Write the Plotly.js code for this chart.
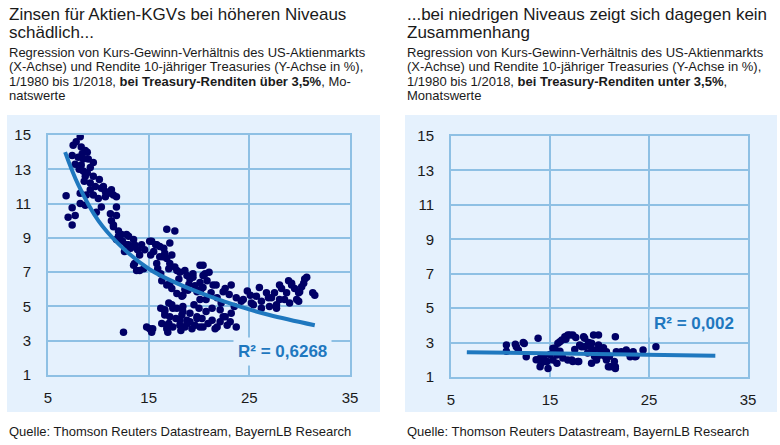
<!DOCTYPE html>
<html>
<head>
<meta charset="utf-8">
<script src="https://cdn.plot.ly/plotly-3.0.1.min.js"></script>
<style>
html,body{margin:0;padding:0;background:#fff;}
#chart{width:780px;height:445px;}
</style>
</head>
<body>
<div id="chart"></div>
<script>
// ---- Left chart: yields above 3.5% (x = KGV, y = 10y Treasury yield %) ----
var highPE = [
  8.2,7.8,7.5,8.3,8.7,8.9,7.4,8.0,8.5,9.0,9.5,7.7,8.3,8.1,8.5,8.9,8.7,9.5,10.1,9.2,8.6,10.3,11.3,10.7,11.0,9.5,8.8,8.2,6.8,11.8,11.5,10.7,10.0,8.2,8.7,10.3,11.8,7.4,9.8,11.2,11.8,7.7,7.0,7.4,11.3,11.5,9.2,9.7,10.5,8.4,9.2,
  12.0,12.3,13.0,11.8,13.5,12.8,13.6,13.9,15.1,15.7,16.8,17.6,17.1,15.3,16.1,11.5,12.0,12.8,13.0,13.6,12.6,14.1,13.5,14.5,13.8,15.8,16.5,15.5,16.1,16.8,17.1,17.6,18.1,13.6,15.8,16.4,17.8,14.1,14.6,15.2,16.6,17.3,12.4,13.2,14.3,15.9,16.2,17.0,
  18.8,19.1,19.4,20.1,20.4,20.1,20.4,20.6,18.6,19.4,18.6,17.1,16.3,16.8,17.3,17.8,18.4,18.9,19.8,20.1,18.3,20.7,19.0,19.6,20.4,18.0,21.4,21.7,22.4,22.6,23.2,21.0,20.8,21.2,20.2,
  17.3,16.6,17.8,18.4,16.6,17.1,18.3,19.1,19.8,16.3,16.8,17.4,18.1,18.8,19.6,20.4,20.3,15.1,14.8,15.3,12.5,15.4,16.6,16.8,17.4,18.8,18.1,18.4,18.6,19.1,20.1,19.8,20.7,21.3,22.1,22.6,21.6,23.1,21.3,22.1,22.4,23.2,23.7,21.8,17.0,16.2,19.5,20.0,17.7,19.3,17.0,20.9,22.8,16.9,18.2,
  23.7,24.4,25.1,25.2,25.7,26.2,26.7,27.2,27.7,28.0,28.2,28.7,29.2,29.5,29.9,30.2,30.5,29.9,31.3,29.0,27.0,24.2,25.4,26.2,26.9,27.5,28.0,28.5,28.9,29.2,29.7,30.0,30.4,30.7,31.5,27.7,22.2,23.0,24.8,26.0,21.8,23.5
];
var highYield = [
  14.9,14.6,14.4,14.3,14.1,14.0,13.8,13.7,13.6,13.6,13.4,13.3,13.25,13.0,12.9,12.8,12.6,12.6,12.4,12.2,12.3,11.9,11.8,11.7,11.6,11.5,11.5,11.6,11.45,11.4,11.5,11.4,11.3,11.0,10.9,10.8,10.8,10.75,10.5,10.4,10.3,10.3,10.2,9.75,10.0,9.75,11.8,12.0,12.0,13.9,13.1,
  9.4,9.2,9.1,8.9,8.9,8.6,8.6,8.3,8.8,8.6,9.5,9.4,8.7,8.8,8.5,9.65,9.1,9.2,8.6,8.5,8.2,8.0,7.4,7.2,7.1,8.6,8.4,8.2,7.9,7.8,7.5,7.3,7.0,7.5,7.5,7.9,7.1,7.1,8.3,8.0,8.1,8.0,8.8,8.4,8.6,7.2,6.9,7.2,
  6.8,6.6,6.9,7.4,6.8,6.4,7.4,6.9,7.1,6.7,6.0,6.35,6.5,6.25,6.05,5.75,5.65,5.95,5.85,5.4,5.6,5.4,6.3,6.2,6.1,6.6,6.25,6.25,5.85,6.05,6.25,7.0,6.5,5.8,6.0,
  5.1,4.8,4.9,5.0,4.5,4.4,4.5,4.6,4.3,4.0,3.7,3.8,3.9,4.0,3.9,3.8,4.3,3.7,3.8,3.5,3.5,3.7,4.7,3.9,4.9,4.2,4.2,4.7,3.8,4.1,3.8,4.4,4.7,4.2,4.1,4.4,3.7,4.1,4.9,4.8,4.4,4.6,3.8,3.8,5.2,4.9,5.1,4.9,4.3,3.7,4.0,4.0,3.9,3.5,3.6,
  5.5,5.4,5.65,5.2,5.6,5.3,5.8,5.5,4.9,5.4,6.05,5.8,6.35,6.05,5.8,6.15,6.6,5.3,5.8,5.2,5.0,5.3,5.1,4.9,5.5,5.8,6.25,5.4,6.5,6.25,5.4,5.85,6.35,6.7,5.65,5.1,5.2,5.7,5.9,6.1,5.5,5.0
];
// trend curve
var highTrendX = [6.7, 8, 10, 12, 15, 18, 21, 24, 27, 31.5];
var highTrendY = [14.0, 12.1, 10.0, 8.65, 7.2, 6.3, 5.6, 5.0, 4.5, 3.9];

// ---- Right chart: yields below 3.5% ----
var lowPE = [
  10.6,10.6,11.6,12.4,12.6,11.8,13.8,14.0,14.0,14.7,14.8,15.3,15.7,15.8,16.2,16.5,16.8,17.3,17.6,16.8,17.3,17.8,18.2,18.5,19.2,19.4,19.9,19.2,19.7,20.1,20.6,20.9,21.6,21.6,21.7,22.2,23.1,23.6,23.4,24.4,25.7,
  12.3,14.1,14.5,15.3,15.7,15.5,16.0,17.0,18.4,18.0,18.5,19.1,19.4,19.9,17.2,17.9,19.7,20.1,20.7,21.1,21.6,21.5,22.7,23.7,20.7,15.0,16.3,16.0,18.8,19.5,20.4,14.4,13.6,22.9,11.5,21.0,16.6,18.9,17.5
];
var lowYield = [
  2.86,2.5,2.76,2.95,2.18,2.57,3.25,2.09,1.6,1.9,1.5,2.67,1.8,2.96,3.15,3.34,3.44,3.44,3.3,1.99,1.9,1.9,2.76,3.25,2.96,3.44,3.44,1.8,2.1,2.57,2.18,1.6,1.6,3.34,2.47,2.47,2.18,2.18,2.47,2.57,2.76,
  3.0,1.8,1.9,1.99,2.28,2.67,3.05,3.44,3.34,2.86,2.76,2.76,2.57,2.86,1.99,1.9,1.99,2.28,1.99,1.6,1.5,1.9,2.57,2.2,2.47,2.3,2.1,2.5,2.4,2.2,2.7,2.2,2.0,2.4,2.9,2.2,3.2,3.0,2.6
];
var lowTrendX = [6.6, 31.7];
var lowTrendY = [2.44, 2.24];

// ---- Texts ----
var titleLeft = ["Zinsen für Aktien-KGVs bei höheren Niveaus", "schädlich..."];
var subLeft = ["Regression von Kurs-Gewinn-Verhältnis des US-Aktienmarkts",
               "(X-Achse) und Rendite 10-jähriger Treasuries (Y-Achse in %),",
               "1/1980 bis 1/2018, <b>bei Treasury-Renditen über 3,5%</b>, Mo-",
               "natswerte"];
var titleRight = ["...bei niedrigen Niveaus zeigt sich dagegen kein", "Zusammenhang"];
var subRight = ["Regression von Kurs-Gewinn-Verhältnis des US-Aktienmarkts",
                "(X-Achse) und Rendite 10-jähriger Treasuries (Y-Achse in %),",
                "1/1980 bis 1/2018, <b>bei Treasury-Renditen unter 3,5%</b>,",
                "Monatswerte"];
var sourceText = "Quelle: Thomson Reuters Datastream, BayernLB Research";
var r2Left = "R² = 0,6268";
var r2Right = "R² = 0,002";
var xTicks = [5, 15, 25, 35];
var yTicks = [1, 3, 5, 7, 9, 11, 13, 15];

var W = 780, H = 445;
var FONT = "Liberation Sans, Arial, sans-serif";
var PANEL = "#e5f1fd";
var GRID = "#8ec0e4";
var DOT = "#000066";
var LINE = "#1f78bf";
function px(x){return x / W;}
function py(y){return 1 - y / H;}

var traces = [
  {x: highPE, y: highYield, type: "scatter", mode: "markers", xaxis: "x", yaxis: "y",
   marker: {color: DOT, size: 7.5}, hoverinfo: "skip"},
  {x: highTrendX, y: highTrendY, type: "scatter", mode: "lines", xaxis: "x", yaxis: "y",
   line: {color: LINE, width: 4, shape: "spline"}, hoverinfo: "skip"},
  {x: lowPE, y: lowYield, type: "scatter", mode: "markers", xaxis: "x2", yaxis: "y2",
   marker: {color: DOT, size: 7.5}, hoverinfo: "skip"},
  {x: lowTrendX, y: lowTrendY, type: "scatter", mode: "lines", xaxis: "x2", yaxis: "y2",
   line: {color: LINE, width: 4}, hoverinfo: "skip"}
];

function xa(dom, anchor){
  return {domain: dom, anchor: anchor, range: [5, 35], tickvals: xTicks, ticktext: xTicks.map(String),
    showgrid: true, gridcolor: GRID, gridwidth: 2, showline: true, linecolor: GRID, linewidth: 2, mirror: true,
    zeroline: false, ticks: "", ticklabelstandoff: 8, tickfont: {family: FONT, size: 15, color: "#1a1a1a"}, fixedrange: true};
}
function ya(dom, anchor){
  return {domain: dom, anchor: anchor, range: [1, 15], tickvals: yTicks, ticktext: yTicks.map(String),
    showgrid: true, gridcolor: GRID, gridwidth: 2, showline: true, linecolor: GRID, linewidth: 2, mirror: true,
    zeroline: false, ticks: "", ticklabelstandoff: 12, tickfont: {family: FONT, size: 15, color: "#1a1a1a"}, fixedrange: true};
}

var annotations = [];
function txt(t, x, yBase, size, extra){
  var a = {text: t, xref: "paper", yref: "paper", x: px(x), y: py(yBase - 0.35 * size),
    xanchor: "left", yanchor: "middle", showarrow: false,
    font: {family: FONT, size: size, color: "#1a1a1a"}};
  if (extra) for (var k in extra) a[k] = extra[k];
  annotations.push(a);
}
txt(titleLeft[0], 7, 20, 17); txt(titleLeft[1], 7, 38, 17);
txt(titleRight[0], 405, 20, 17); txt(titleRight[1], 405, 38, 17);
var subBase = [57, 71.5, 86, 100.5];
for (var i = 0; i < 4; i++){ txt(subLeft[i], 7, subBase[i], 13); txt(subRight[i], 405, subBase[i], 13); }
txt(sourceText, 7, 436, 13); txt(sourceText, 405, 436, 13);

annotations.push({text: "<b>" + r2Left + "</b>", xref: "paper", yref: "paper", x: px(282), y: py(351),
  xanchor: "center", yanchor: "middle", showarrow: false, bgcolor: PANEL, borderpad: 4,
  font: {family: FONT, size: 17, color: LINE}});
annotations.push({text: "<b>" + r2Right + "</b>", xref: "paper", yref: "paper", x: px(694), y: py(323),
  xanchor: "center", yanchor: "middle", showarrow: false, bgcolor: PANEL, borderpad: 4,
  font: {family: FONT, size: 17, color: LINE}});

var shapes = [
  {type: "rect", xref: "paper", yref: "paper", x0: px(7), x1: px(380), y0: py(412), y1: py(115),
   fillcolor: PANEL, line: {width: 0}, layer: "below"},
  {type: "rect", xref: "paper", yref: "paper", x0: px(405), x1: px(777), y0: py(412), y1: py(115),
   fillcolor: PANEL, line: {width: 0}, layer: "below"}
];

var layout = {
  width: W, height: H, margin: {l: 0, r: 0, t: 0, b: 0},
  paper_bgcolor: "#ffffff", plot_bgcolor: "rgba(0,0,0,0)",
  showlegend: false,
  xaxis: xa([px(48), px(350)], "y"),
  yaxis: ya([py(375), py(135)], "x"),
  xaxis2: xa([px(451), px(748)], "y2"),
  yaxis2: ya([py(377), py(136)], "x2"),
  annotations: annotations,
  shapes: shapes
};

Plotly.newPlot("chart", traces, layout, {displayModeBar: false, staticPlot: true});
</script>
</body>
</html>
